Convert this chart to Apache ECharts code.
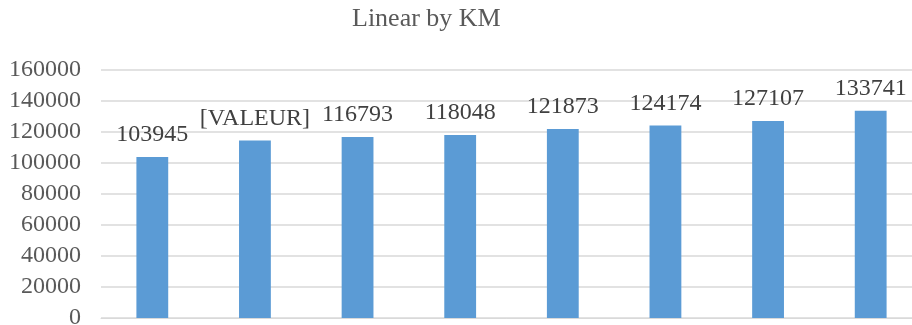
<!DOCTYPE html>
<html>
<head>
<meta charset="utf-8">
<script src="https://cdn.jsdelivr.net/npm/echarts@6/dist/echarts.min.js"></script>
<style>
  html, body { margin: 0; padding: 0; background: #fff; }
  #main { width: 912px; height: 325px; }
</style>
</head>
<body>
<div id="main"></div>
<script>
var categories = ['1', '2', '3', '4', '5', '6', '7', '8'];
var values = [103945, 114500, 116793, 118048, 121873, 124174, 127107, 133741];
var valueLabels = ['103945', '[VALEUR]', '116793', '118048', '121873', '124174', '127107', '133741'];

var dom = document.getElementById('main');
var myChart = echarts.init(dom, null, { renderer: 'canvas' });
var serif = '"Liberation Serif", "Times New Roman", serif';

var option = {
  animation: false,
  title: {
    text: 'Linear by KM',
    left: 347,
    top: 1,
    textStyle: { fontFamily: serif, fontSize: 26, fontWeight: 'normal', color: '#595959' }
  },
  grid: { left: 101, width: 821, top: 70, bottom: 7, containLabel: false, outerBoundsMode: 'none' },
  xAxis: {
    type: 'category',
    data: categories,
    axisLine: { lineStyle: { color: '#d9d9d9' } },
    axisTick: { show: false },
    axisLabel: { show: false }
  },
  yAxis: {
    type: 'value',
    min: 0,
    max: 160000,
    interval: 20000,
    axisLine: { show: false },
    axisTick: { show: false },
    splitLine: { lineStyle: { color: '#d9d9d9', width: 1.5 } },
    axisLabel: {
      fontFamily: serif, fontSize: 24, color: '#595959', margin: 20,
      formatter: function (v) { return String(v); }
    }
  },
  series: [{
    type: 'bar',
    data: values,
    barWidth: '31%',
    itemStyle: { color: '#5b9bd5' },
    label: {
      show: true,
      position: 'top',
      distance: 10,
      fontFamily: serif,
      fontSize: 24,
      color: '#404040',
      formatter: function (p) { return valueLabels[p.dataIndex]; }
    }
  }]
};
myChart.setOption(option);
window.onresize = myChart.resize;
</script>
</body>
</html>
